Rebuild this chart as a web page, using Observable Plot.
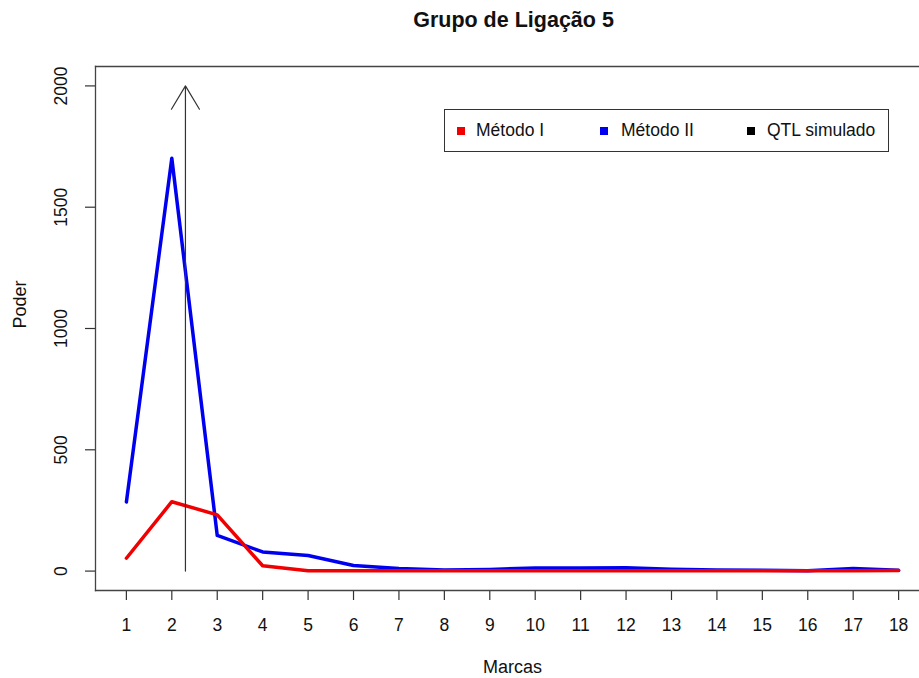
<!DOCTYPE html>
<html>
<head>
<meta charset="utf-8">
<script src="https://cdn.jsdelivr.net/npm/d3@7"></script>
<script src="https://cdn.jsdelivr.net/npm/@observablehq/plot@0.6"></script>
<style>
  html, body { margin: 0; padding: 0; background: #fff; overflow: hidden; }
  #wrap { position: relative; width: 919px; height: 678px; font-family: "Liberation Sans", Arial, Helvetica, sans-serif; }
  #legend { position: absolute; left: 444px; top: 109px; width: 445px; height: 43px; border: 1.3px solid #333; box-sizing: border-box; background: #fff; font-size: 17.5px; color: #111; }
  #legend .sq { position: absolute; top: 17px; width: 8px; height: 8px; }
  #legend .lb { position: absolute; top: 10px; line-height: 20px; white-space: nowrap; }
</style>
</head>
<body>
<div id="wrap"></div>
<script>
// ---- data ----
const marcas = [1, 2, 3, 4, 5, 6, 7, 8, 9, 10, 11, 12, 13, 14, 15, 16, 17, 18];
const metodoI = [53, 286, 232, 22, 1, 1, 1, 1, 1, 1, 1, 1, 1, 1, 1, 1, 1, 2];
const metodoII = [285, 1702, 147, 79, 64, 23, 11, 5, 7, 13, 13, 14, 8, 4, 3, 1, 11, 3];
const qtlSimulado = [{x: 2.3, y1: 0, y2: 2000}];
const yTicks = [0, 500, 1000, 1500, 2000];
const xTicks = marcas;
const seriesNames = ["Método I", "Método II", "QTL simulado"];
const seriesColors = ["#f00000", "#0000f0", "black"];

const dataI = marcas.map((m, i) => ({marca: m, poder: metodoI[i]}));
const dataII = marcas.map((m, i) => ({marca: m, poder: metodoII[i]}));

const font = '"Liberation Sans", Arial, Helvetica, sans-serif';

const chart = Plot.plot({
  width: 919,
  height: 678,
  marginLeft: 95,
  marginRight: 0,
  marginTop: 66,
  marginBottom: 88,
  style: {fontFamily: font, background: "white", color: "#111"},
  x: {domain: [0.32, 18.68], range: [95, 929], label: null},
  y: {domain: [-80, 2080], label: null},
  marks: [
    Plot.axisX({ticks: xTicks, tickSize: 10, tickPadding: 18, fontSize: 17.5, tickFormat: d => String(d), stroke: "#333", strokeWidth: 1.2, label: null}),
    Plot.axisY({ticks: yTicks, tickSize: 10, tickFormat: () => "", stroke: "#333", strokeWidth: 1.2, label: null}),
    Plot.text(yTicks, {y: d => d, text: d => String(d), frameAnchor: "left", dx: -34, rotate: -90, fontSize: 17.5, textAnchor: "middle", lineAnchor: "middle", fill: "#111"}),
    Plot.frame({anchor: "left", stroke: "#444", strokeWidth: 1.3}),
    Plot.frame({anchor: "top", stroke: "#444", strokeWidth: 1.3}),
    Plot.frame({anchor: "bottom", stroke: "#444", strokeWidth: 1.3}),
    Plot.line(dataII, {x: "marca", y: "poder", stroke: seriesColors[1], strokeWidth: 3.5}),
    Plot.line(dataI, {x: "marca", y: "poder", stroke: seriesColors[0], strokeWidth: 3.5}),
    Plot.arrow(qtlSimulado, {x: "x", y1: "y1", y2: "y2", stroke: "#333", strokeWidth: 1.2, headLength: 34, headAngle: 62}),
    Plot.text(["Grupo de Ligação 5"], {frameAnchor: "top", dy: -46, dx: 6, fontSize: 21.5, fontWeight: "bold", lineAnchor: "middle", fill: "#111"}),
    Plot.text(["Marcas"], {frameAnchor: "bottom", dy: 77, dx: 5, fontSize: 18, lineAnchor: "middle", fill: "#111"}),
    Plot.text(["Poder"], {frameAnchor: "left", dx: -75, rotate: -90, fontSize: 18, lineAnchor: "middle", fill: "#111"})
  ]
});

const wrap = document.getElementById("wrap");
wrap.appendChild(chart);

// legend
const legend = document.createElement("div");
legend.id = "legend";
const sqLeft = [12, 155, 302];
const lbLeft = [31, 176, 322];
seriesNames.forEach((name, i) => {
  const sq = document.createElement("div");
  sq.className = "sq";
  sq.style.left = sqLeft[i] + "px";
  sq.style.background = seriesColors[i];
  legend.appendChild(sq);
  const lb = document.createElement("div");
  lb.className = "lb";
  lb.style.left = lbLeft[i] + "px";
  lb.textContent = name;
  legend.appendChild(lb);
});
wrap.appendChild(legend);
</script>
</body>
</html>
